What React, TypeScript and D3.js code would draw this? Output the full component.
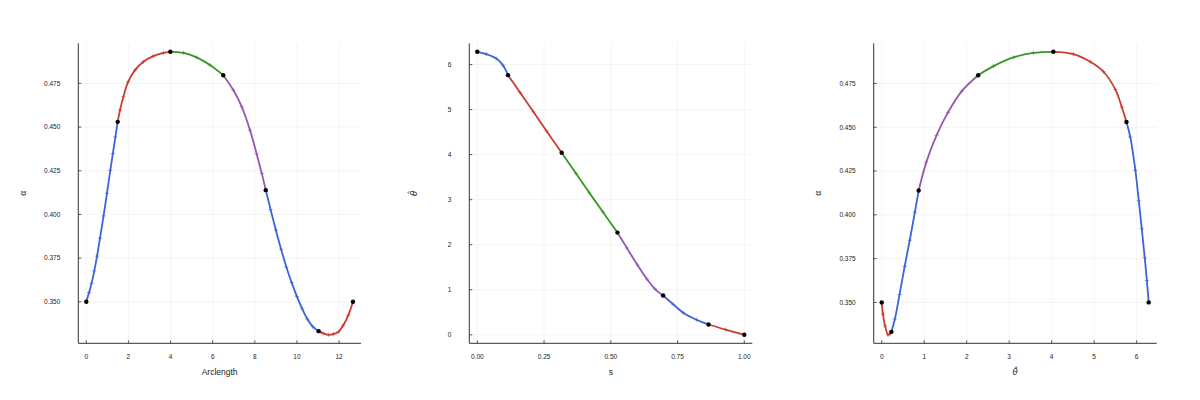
import React from 'react';
import * as d3 from 'd3';

const COLORS: Record<string, string> = {
  blue: '#4063D8',
  red: '#CB3C33',
  green: '#389826',
  purple: '#9558B2',
};

// Panel 1: alpha vs arclength
const p1Colors = ['blue', 'red', 'green', 'purple', 'blue', 'red'];
const p1Segments: [number, number][][] = [
  [[0, 0.35], [0.13, 0.3553], [0.25, 0.3606], [0.38, 0.3677], [0.51, 0.3761], [0.65, 0.3864], [0.82, 0.3992], [0.98, 0.4121], [1.14, 0.4252], [1.26, 0.4348], [1.38, 0.4443], [1.49, 0.453]],
  [[1.49, 0.453], [1.6, 0.4597], [1.76, 0.4674], [1.99, 0.476], [2.31, 0.4826], [2.71, 0.4874], [3.18, 0.4906], [3.66, 0.4925], [3.99, 0.4931]],
  [[3.99, 0.4931], [4.61, 0.4925], [5.24, 0.4899], [5.87, 0.4855], [6.5, 0.4797]],
  [[6.5, 0.4797], [6.98, 0.4712], [7.38, 0.4616], [7.77, 0.4483], [8.09, 0.4345], [8.33, 0.4235], [8.52, 0.4139]],
  [[8.52, 0.4139], [8.75, 0.4027], [9.0, 0.391], [9.25, 0.38], [9.5, 0.3698], [9.75, 0.361], [10.0, 0.353], [10.25, 0.346], [10.5, 0.34], [10.75, 0.3358], [11.03, 0.3332]],
  [[11.03, 0.3332], [11.25, 0.3319], [11.49, 0.3311], [11.73, 0.3315], [11.97, 0.3328], [12.2, 0.3366], [12.44, 0.3424], [12.66, 0.35]],
];
const p1XTicks = [0, 2, 4, 6, 8, 10, 12];
const alphaTicks = [0.35, 0.375, 0.4, 0.425, 0.45, 0.475];

// Panel 2: theta-hat vs s
const p2Colors = ['blue', 'red', 'green', 'purple', 'blue', 'red'];
const p2Segments: [number, number][][] = [
  [[0, 6.283], [0.034, 6.229], [0.071, 6.133], [0.096, 5.985], [0.115, 5.764]],
  [[0.115, 5.764], [0.16, 5.38], [0.21, 4.95], [0.26, 4.52], [0.316, 4.042]],
  [[0.316, 4.042], [0.37, 3.58], [0.42, 3.15], [0.47, 2.73], [0.525, 2.269]],
  [[0.525, 2.269], [0.56, 1.93], [0.6, 1.55], [0.635, 1.24], [0.665, 1.02], [0.696, 0.872]],
  [[0.696, 0.872], [0.734, 0.675], [0.771, 0.49], [0.821, 0.335], [0.866, 0.229]],
  [[0.866, 0.229], [0.93, 0.115], [1.0, 0]],
];
const p2XTicks = [0, 0.25, 0.5, 0.75, 1.0];
const p2YTicks = [0, 1, 2, 3, 4, 5, 6];

// Panel 3: alpha vs theta-hat
const p3Colors = ['red', 'blue', 'purple', 'green', 'red', 'blue'];
const p3Segments: [number, number][][] = [
  [[0, 0.35], [0.03, 0.3433], [0.08, 0.3366], [0.15, 0.3315], [0.2, 0.3322], [0.228, 0.3332]],
  [[0.228, 0.3332], [0.31, 0.3405], [0.42, 0.3545], [0.54, 0.3705], [0.66, 0.3855], [0.78, 0.4015], [0.87, 0.4139]],
  [[0.87, 0.4139], [1.05, 0.4301], [1.29, 0.4454], [1.56, 0.4585], [1.88, 0.4705], [2.27, 0.4797]],
  [[2.27, 0.4797], [2.63, 0.4849], [3.1, 0.4899], [3.57, 0.4925], [4.04, 0.4931]],
  [[4.04, 0.4931], [4.51, 0.4918], [4.91, 0.4874], [5.22, 0.4817], [5.5, 0.4715], [5.65, 0.4616], [5.76, 0.453]],
  [[5.76, 0.453], [5.85, 0.4444], [5.97, 0.4254], [6.05, 0.408], [6.12, 0.392], [6.19, 0.3755], [6.24, 0.3625], [6.283, 0.35]],
];
const p3XTicks = [0, 1, 2, 3, 4, 5, 6];

const TOP = 43.3;
const BOTTOM = 343.3;
const FONT = '"Liberation Sans", Arial, sans-serif';
const THETA_FONT = '"DejaVu Sans", sans-serif';

type PanelProps = {
  left: number;
  right: number;
  segments: [number, number][][];
  colors: string[];
  xTicks: number[];
  yTicks: number[];
  xFmt: (v: number) => string;
  yFmt: (v: number) => string;
  xLabel: string;
  yLabel: string;
};

function padExtent(vals: number[]): [number, number] {
  const [a, b] = d3.extent(vals) as [number, number];
  const m = (b - a) * 0.03;
  return [a - m, b + m];
}

const isTheta = (s: string) => s.startsWith('θ');

function Panel(p: PanelProps) {
  const all = p.segments.flat();
  const x = d3.scaleLinear().domain(padExtent(all.map((d) => d[0]))).range([p.left, p.right]);
  const y = d3.scaleLinear().domain(padExtent(all.map((d) => d[1]))).range([BOTTOM, TOP]);
  const line = d3
    .line<[number, number]>()
    .x((d) => x(d[0]))
    .y((d) => y(d[1]))
    .curve(d3.curveCatmullRom.alpha(0.5));
  const breakpoints: [number, number][] = [p.segments[0][0], ...p.segments.map((s) => s[s.length - 1])];
  const cx = (p.left + p.right) / 2;
  const cy = (TOP + BOTTOM) / 2;
  return (
    <g>
      {p.xTicks.map((t) => (
        <line key={'gx' + t} x1={x(t)} x2={x(t)} y1={TOP} y2={BOTTOM} stroke="#000" strokeOpacity={0.08} strokeWidth={0.6} />
      ))}
      {p.yTicks.map((t) => (
        <line key={'gy' + t} x1={p.left} x2={p.right} y1={y(t)} y2={y(t)} stroke="#000" strokeOpacity={0.08} strokeWidth={0.6} />
      ))}
      <line x1={p.left} x2={p.left} y1={TOP} y2={BOTTOM} stroke="#333" strokeWidth={1} />
      <line x1={p.left} x2={p.right} y1={BOTTOM} y2={BOTTOM} stroke="#333" strokeWidth={1} />
      {p.xTicks.map((t) => (
        <g key={'tx' + t}>
          <line x1={x(t)} x2={x(t)} y1={BOTTOM} y2={BOTTOM - 3} stroke="#333" strokeWidth={0.8} />
          <text x={x(t)} y={BOTTOM + 15.5} fontSize={6.5} fontFamily={FONT} textAnchor="middle" fill="#222">
            {p.xFmt(t)}
          </text>
        </g>
      ))}
      {p.yTicks.map((t) => (
        <g key={'ty' + t}>
          <line x1={p.left} x2={p.left + 3} y1={y(t)} y2={y(t)} stroke="#333" strokeWidth={0.8} />
          <text x={p.left - 18} y={y(t)} dy="0.35em" fontSize={6.5} fontFamily={FONT} textAnchor="end" fill="#222">
            {p.yFmt(t)}
          </text>
        </g>
      ))}
      {p.segments.map((seg, i) => (
        <g key={'s' + i}>
          <path d={line(seg) || ''} fill="none" stroke={COLORS[p.colors[i]]} strokeWidth={1.8} />
          {seg.slice(1, -1).map((d, j) => (
            <path
              key={j}
              transform={`translate(${x(d[0])},${y(d[1])})`}
              d="M-2,0h4M0,-2v4"
              stroke={COLORS[p.colors[i]]}
              strokeOpacity={0.75}
              strokeWidth={0.9}
            />
          ))}
        </g>
      ))}
      {breakpoints.map((d, i) => (
        <circle key={'b' + i} cx={x(d[0])} cy={y(d[1])} r={2.2} fill="#000" />
      ))}
      <text
        x={cx}
        y={BOTTOM + 32}
        fontSize={8.5}
        fontFamily={isTheta(p.xLabel) ? THETA_FONT : FONT}
        fontStyle={isTheta(p.xLabel) ? 'italic' : 'normal'}
        textAnchor="middle"
        fill="#222"
      >
        {p.xLabel}
      </text>
      <text
        transform={`translate(${p.left - 55.5},${cy}) rotate(-90)`}
        fontSize={8.5}
        fontFamily={isTheta(p.yLabel) ? THETA_FONT : FONT}
        fontStyle={isTheta(p.yLabel) ? 'italic' : 'normal'}
        textAnchor="middle"
        dy="0.35em"
        fill="#222"
      >
        {p.yLabel}
      </text>
    </g>
  );
}

export default function App() {
  const f3 = d3.format('.3f');
  const f2 = d3.format('.2f');
  const fi = d3.format('d');
  return (
    <svg width={1200} height={400} style={{ position: 'absolute', left: 0, top: 0, background: '#fff' }}>
      <rect width={1200} height={400} fill="#fff" />
      <Panel
        left={78.3}
        right={361}
        segments={p1Segments}
        colors={p1Colors}
        xTicks={p1XTicks}
        yTicks={alphaTicks}
        xFmt={fi}
        yFmt={f3}
        xLabel="Arclength"
        yLabel="α"
      />
      <Panel
        left={469.3}
        right={752.3}
        segments={p2Segments}
        colors={p2Colors}
        xTicks={p2XTicks}
        yTicks={p2YTicks}
        xFmt={f2}
        yFmt={fi}
        xLabel="s"
        yLabel={'θ\u0302'}
      />
      <Panel
        left={873.7}
        right={1156.7}
        segments={p3Segments}
        colors={p3Colors}
        xTicks={p3XTicks}
        yTicks={alphaTicks}
        xFmt={fi}
        yFmt={f3}
        xLabel={'θ\u0302'}
        yLabel="α"
      />
    </svg>
  );
}
